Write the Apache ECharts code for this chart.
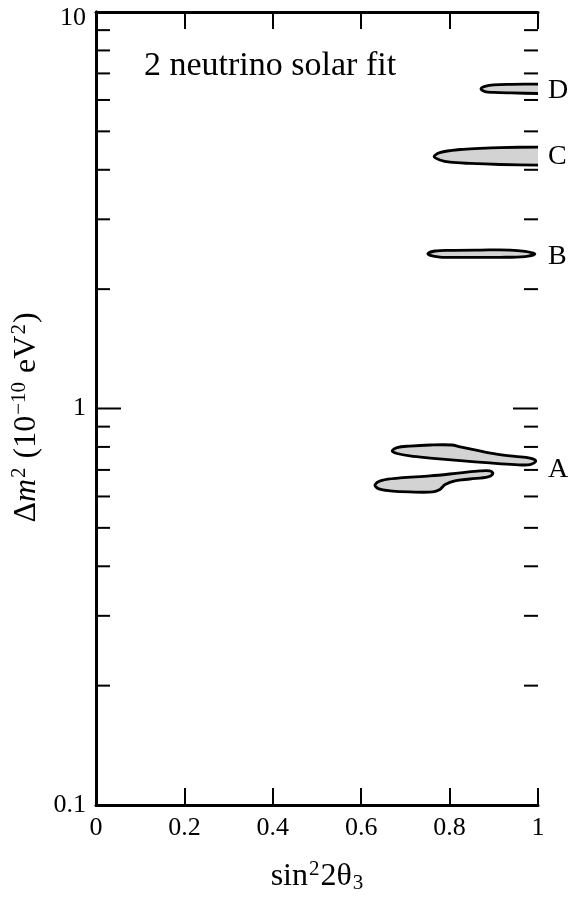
<!DOCTYPE html>
<html>
<head>
<meta charset="utf-8">
<script src="https://cdn.jsdelivr.net/npm/echarts@6/dist/echarts.min.js"></script>
<style>
  html, body { margin: 0; padding: 0; background: #fff; }
  #chart { width: 576px; height: 900px; }
</style>
</head>
<body>
<div id="chart"></div>
<script>
// contour outlines, [sin^2 2theta, dm^2 (1e-10 eV^2)]
// C and D run on past sin^2 2theta = 1 and are clipped by the frame
const contourA1 = [[0.670,0.781],[0.681,0.797],[0.710,0.804],[0.756,0.809],[0.805,0.809],[0.824,0.800],
  [0.857,0.786],[0.903,0.768],[0.948,0.757],[0.982,0.750],[0.995,0.737],[0.982,0.722],[0.948,0.722],
  [0.891,0.729],[0.824,0.739],[0.756,0.750],[0.710,0.759],[0.681,0.770]];
const contourA2 = [[0.631,0.641],[0.647,0.659],[0.688,0.668],[0.756,0.676],[0.824,0.688],[0.869,0.696],
  [0.891,0.696],[0.898,0.686],[0.887,0.672],[0.846,0.664],[0.812,0.657],[0.790,0.643],[0.778,0.625],
  [0.762,0.616],[0.710,0.616],[0.665,0.620],[0.640,0.627]];
const contourB = [[0.751,2.46],[0.767,2.496],[0.801,2.506],[0.869,2.51],[0.937,2.51],[0.971,2.489],
  [0.993,2.453],[0.971,2.417],[0.914,2.406],[0.824,2.406],[0.778,2.41],[0.756,2.432]];
const contourC = [[0.765,4.32],[0.778,4.42],[0.824,4.50],[0.869,4.53],[0.914,4.55],[1.0,4.565],[1.04,4.565],
  [1.04,4.11],[1.0,4.11],[0.914,4.125],[0.846,4.15],[0.801,4.18],[0.778,4.235]];
const contourD = [[0.871,6.40],[0.88,6.49],[0.90,6.55],[0.94,6.57],[1.0,6.58],[1.04,6.58],
  [1.04,6.23],[1.0,6.23],[0.94,6.25],[0.90,6.27],[0.88,6.30]];

const majorTickValues = [1];
const minorTickValues = [0.2,0.3,0.4,0.5,0.6,0.7,0.8,0.9,2,3,4,5,6,7,8,9];
const regionNames = ['A','B','C','D'];
const regionY = [0.70, 2.41, 4.31, 6.32];

const serif = '"Liberation Serif", "DejaVu Serif", serif';

function contourSeries(points) {
  return {
    type: 'custom',
    coordinateSystem: 'cartesian2d',
    data: points,
    silent: true,
    clip: true,
    z: 3,
    renderItem: function (params, api) {
      if (params.dataIndex !== 0) return null;
      return {
        type: 'polygon',
        shape: { points: points.map(p => api.coord(p)), smooth: 0.35 },
        style: { fill: '#d3d3d3', stroke: '#000', lineWidth: 2.8 }
      };
    }
  };
}

// horizontal ticks on both y axes (log axis minor ticks are drawn by hand)
function yTickSeries(values, len) {
  return {
    type: 'custom',
    coordinateSystem: 'cartesian2d',
    data: values.map(v => [0, v]),
    silent: true,
    z: 2,
    renderItem: function (params, api) {
      const v = api.value(1);
      const l = api.coord([0, v]);
      const r = api.coord([1, v]);
      const st = { stroke: '#000', lineWidth: 2 };
      return {
        type: 'group',
        children: [
          { type: 'line', shape: { x1: l[0], y1: l[1], x2: l[0] + len, y2: l[1] }, style: st },
          { type: 'line', shape: { x1: r[0], y1: r[1], x2: r[0] - len, y2: r[1] }, style: st }
        ]
      };
    }
  };
}

const chart = echarts.init(document.getElementById('chart'));

const baseX = {
  type: 'value', min: 0, max: 1, interval: 0.2,
  axisLine: { lineStyle: { color: '#000', width: 3 } },
  axisTick: { inside: true, length: 17, lineStyle: { color: '#000', width: 2 } },
  splitLine: { show: false }
};
const baseY = {
  type: 'log', logBase: 10, min: 0.1, max: 10,
  axisLine: { lineStyle: { color: '#000', width: 3 } },
  axisTick: { show: false },
  minorTick: { show: false },
  splitLine: { show: false }
};

chart.setOption({
  animation: false,
  backgroundColor: '#fff',
  grid: { left: 96, right: 38, top: 12, bottom: 95 },
  xAxis: [
    Object.assign({}, baseX, {
      position: 'bottom',
      axisLabel: { color: '#000', fontFamily: serif, fontSize: 26, margin: 10 },
      name: '{m|sin}{s|2}{m|2θ}{b|3}',
      nameLocation: 'middle',
      nameGap: 54,
      nameTextStyle: {
        color: '#000', fontFamily: serif,
        rich: {
          m: { fontSize: 32, fontFamily: serif, color: '#000' },
          s: { fontSize: 21, fontFamily: serif, color: '#000', verticalAlign: 'top', padding: [0, 1, 14, 1] },
          b: { fontSize: 21, fontFamily: serif, color: '#000', verticalAlign: 'bottom', padding: [10, 0, 0, 1] }
        }
      }
    }),
    Object.assign({}, baseX, { position: 'top', axisLabel: { show: false } })
  ],
  yAxis: [
    Object.assign({}, baseY, {
      position: 'left',
      axisLabel: {
        color: '#000', fontFamily: serif, fontSize: 26, margin: 10,
        formatter: v => (v >= 10 ? '{t|' + v + '}' : String(v)),
        rich: { t: { fontFamily: serif, fontSize: 26, color: '#000', padding: [12, 0, 0, 0] } }
      },
      name: '{d|Δ}{i|m}{s|2}{m| (10}{s|−10}{m| eV}{s|2}{m|)}',
      nameLocation: 'middle',
      nameGap: 50,
      nameRotate: 90,
      nameTextStyle: {
        color: '#000', fontFamily: serif,
        padding: [0, 18, 0, 0],
        rich: {
          d: { fontSize: 32, fontFamily: serif, color: '#000' },
          i: { fontSize: 32, fontFamily: serif, fontStyle: 'italic', color: '#000' },
          m: { fontSize: 32, fontFamily: serif, color: '#000' },
          s: { fontSize: 21, fontFamily: serif, color: '#000', verticalAlign: 'top', padding: [0, 1, 14, 1] }
        }
      }
    }),
    Object.assign({}, baseY, { position: 'right', axisLabel: { show: false } })
  ],
  graphic: [{
    type: 'text', left: 144, top: 49,
    style: { text: '2 neutrino solar fit', font: '34px ' + serif, fill: '#000' }
  }],
  series: [
    yTickSeries(majorTickValues, 25),
    yTickSeries(minorTickValues, 14),
    contourSeries(contourA1),
    contourSeries(contourA2),
    contourSeries(contourB),
    contourSeries(contourC),
    contourSeries(contourD),
    {
      type: 'custom',
      coordinateSystem: 'cartesian2d',
      data: regionNames.map((n, i) => [1, regionY[i]]),
      silent: true,
      clip: false,
      renderItem: function (params, api) {
        const p = api.coord([api.value(0), api.value(1)]);
        return {
          type: 'text',
          x: p[0] + 10, y: p[1],
          style: {
            text: regionNames[params.dataIndex], fill: '#000',
            font: '28px ' + serif, align: 'left', verticalAlign: 'middle'
          }
        };
      }
    }
  ]
});
</script>
</body>
</html>
